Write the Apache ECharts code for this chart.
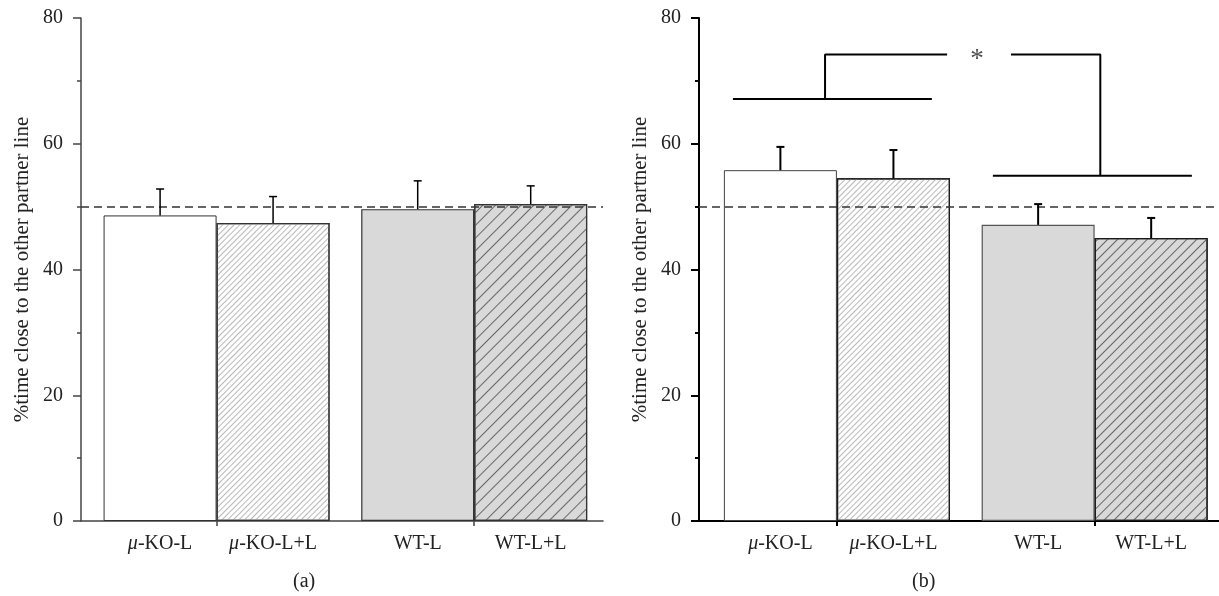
<!DOCTYPE html>
<html>
<head>
<meta charset="utf-8">
<script src="https://cdn.jsdelivr.net/npm/echarts@6.0.0/dist/echarts.min.js"></script>
<style>
  html, body { margin: 0; padding: 0; background: #fff; }
  #main { width: 1219px; height: 596px; }
</style>
</head>
<body>
<div id="main"></div>
<script>
// groups, left to right
var groups = ['μ-KO-L', 'μ-KO-L+L', 'WT-L', 'WT-L+L'];
// panel (a): mean and error (upper whisker length)
var meanA = [48.6, 47.4, 49.6, 50.4];
var errA = [4.2, 4.2, 4.5, 2.9];
// panel (b)
var meanB = [55.8, 54.5, 47.1, 45.0];
var errB = [3.7, 4.5, 3.3, 3.2];
var chanceLevel = 50;
// significance bracket levels in panel (b)
var bracketLow = 67.1;
var bracketTop = 74.2;
var bracketRight = 54.9;

// x positions of the bar centres on the (unitless) x axis, 1 unit = one bar width
var posA = [0.7, 1.7, 2.98, 3.98];
var posB = [0.72, 1.72, 3.0, 4.0];

var SERIF = '"Liberation Serif", "DejaVu Serif", serif';
var FS = 20;

var chart = echarts.init(document.getElementById('main'));

function barStyles(bold) {
  var edge = bold ? '#1a1a1a' : '#333';
  return [
    { color: '#fff', borderColor: bold ? '#444' : '#333', borderWidth: 1 },
    { color: '#fff', borderColor: edge, borderWidth: 1.2,
      decal: { symbol: 'rect', symbolSize: 1, dashArrayX: [1, 0], dashArrayY: [1, 2.6],
               rotation: -Math.PI / 4, color: '#b8b8b8' } },
    { color: '#d9d9d9', borderColor: bold ? '#555' : '#333', borderWidth: 1.2 },
    { color: '#d9d9d9', borderColor: edge, borderWidth: 1.2,
      decal: { symbol: 'rect', symbolSize: 1, dashArrayX: [1, 0], dashArrayY: [1, bold ? 5.4 : 7.4],
               rotation: -Math.PI / 4, color: '#666' } }
  ];
}

function xAxis(idx, pos, max, bold) {
  return {
    type: 'value', gridIndex: idx, min: 0, max: max,
    splitLine: { show: false },
    axisLine: { show: true, onZero: false, lineStyle: { color: bold ? '#000' : '#444', width: bold ? 2 : 1.5 } },
    axisTick: { show: true, customValues: [pos[0] + 0.5, pos[2] + 0.5], length: 5,
                lineStyle: { color: bold ? '#000' : '#444', width: bold ? 2 : 1.5 } },
    axisLabel: {
      customValues: pos, margin: 13, color: '#222', fontFamily: SERIF, fontSize: FS,
      formatter: function (v) {
        for (var i = 0; i < pos.length; i++) {
          if (Math.abs(pos[i] - v) < 1e-6) {
            var g = groups[i];
            return g.charAt(0) === 'μ' ? '{i|μ}' + g.slice(1) : g;
          }
        }
        return '';
      },
      rich: { i: { fontStyle: 'italic', fontFamily: SERIF, fontSize: FS, color: '#222' } }
    }
  };
}

function yAxis(idx, bold) {
  var c = bold ? '#000' : '#444';
  return {
    type: 'value', gridIndex: idx, min: 0, max: 80, interval: 20,
    name: '%time close to the other partner line',
    nameLocation: 'middle', nameGap: 48,
    nameTextStyle: { fontFamily: SERIF, fontSize: 21, color: '#222' },
    splitLine: { show: false },
    axisLine: { show: true, lineStyle: { color: c, width: bold ? 2 : 1.5 } },
    axisTick: { show: true, length: 8, lineStyle: { color: c, width: bold ? 2 : 1.5 } },
    minorTick: { show: true, splitNumber: 2, length: 4, lineStyle: { color: c, width: bold ? 2 : 1.5 } },
    axisLabel: { margin: 18, color: '#222', fontFamily: SERIF, fontSize: FS }
  };
}

function barSeries(idx, pos, mean, bold) {
  var styles = barStyles(bold);
  return {
    type: 'bar', xAxisIndex: idx, yAxisIndex: idx, barWidth: 113,
    data: mean.map(function (m, i) { return { value: [pos[i], m], itemStyle: styles[i] }; }),
    markLine: {
      silent: true, symbol: 'none', label: { show: false },
      lineStyle: { type: [8, 5], color: '#333', width: 1.5 },
      data: [{ yAxis: chanceLevel }]
    },
    z: 2
  };
}

function errSeries(idx, pos, mean, err, bold) {
  return {
    type: 'custom', xAxisIndex: idx, yAxisIndex: idx, z: 5,
    data: mean.map(function (m, i) { return [pos[i], m, m + err[i]]; }),
    renderItem: function (params, api) {
      var p0 = api.coord([api.value(0), api.value(1)]);
      var p1 = api.coord([api.value(0), api.value(2)]);
      var st = { stroke: '#000', lineWidth: bold ? 2 : 1.5 };
      return { type: 'group', children: [
        { type: 'line', shape: { x1: p0[0], y1: p0[1], x2: p1[0], y2: p1[1] }, style: st },
        { type: 'line', shape: { x1: p1[0] - 4, y1: p1[1], x2: p1[0] + 4, y2: p1[1] }, style: st }
      ] };
    }
  };
}

// bracket polylines in panel (b), x in bar-width units
var brackets = [
  [[0.30, bracketLow], [2.06, bracketLow]],
  [[1.115, bracketLow], [1.115, bracketTop], [2.195, bracketTop]],
  [[2.76, bracketTop], [3.55, bracketTop], [3.55, bracketRight]],
  [[2.60, bracketRight], [4.36, bracketRight]]
];

var series = [
  barSeries(0, posA, meanA, false),
  errSeries(0, posA, meanA, errA, false),
  barSeries(1, posB, meanB, true),
  errSeries(1, posB, meanB, errB, true)
];
brackets.forEach(function (seg) {
  series.push({
    type: 'line', xAxisIndex: 1, yAxisIndex: 1, data: seg, symbol: 'none', silent: true,
    lineStyle: { color: '#000', width: 2 }, z: 4
  });
});
series.push({
  type: 'scatter', xAxisIndex: 1, yAxisIndex: 1, symbolSize: 1, silent: true,
  itemStyle: { color: 'rgba(0,0,0,0)' },
  data: [[2.46, bracketTop]],
  label: { show: true, position: 'inside', formatter: '*', fontFamily: SERIF, fontSize: 27, color: '#222', offset: [0, 5] }
});

chart.setOption({
  animation: false,
  backgroundColor: '#fff',
  grid: [
    { left: 81, top: 18, width: 522, height: 503 },
    { left: 699, top: 18, width: 520, height: 503 }
  ],
  xAxis: [xAxis(0, posA, 4.62, false), xAxis(1, posB, 4.6, true)],
  yAxis: [yAxis(0, false), yAxis(1, true)],
  series: series,
  graphic: [
    { type: 'text', left: 293, top: 572, style: { text: '(a)', font: FS + 'px ' + SERIF, fill: '#222' } },
    { type: 'text', left: 912, top: 572, style: { text: '(b)', font: FS + 'px ' + SERIF, fill: '#222' } }
  ]
});
</script>
</body>
</html>
